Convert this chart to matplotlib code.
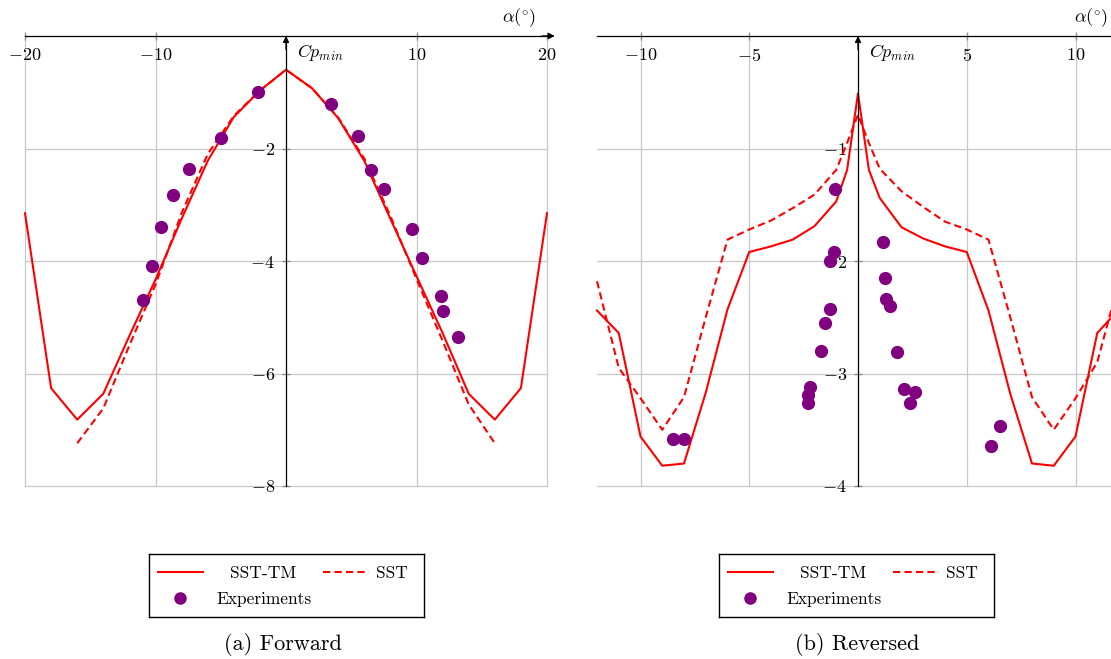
import numpy as np
import matplotlib.pyplot as plt

plt.rcParams['font.family'] = 'cmr10'
plt.rcParams['mathtext.fontset'] = 'cm'
plt.rcParams['axes.formatter.use_mathtext'] = True

# -----------------------------
# (a) Forward
# -----------------------------
fwd_tm_alpha = [-20, -18, -16, -14, -12, -10, -8, -6, -4, -2, 0,
                2, 4, 6, 8, 10, 12, 14, 16, 18, 20]
fwd_tm_cp = [-3.15, -6.26, -6.82, -6.36, -5.33, -4.33, -3.25, -2.22, -1.44, -0.97, -0.60,
             -0.93, -1.46, -2.22, -3.25, -4.27, -5.28, -6.36, -6.82, -6.26, -3.15]

fwd_sst_alpha = [-16, -14, -12, -10, -8, -6, -4, -2, 0, 2, 4, 6, 8, 10, 12, 14, 16]
fwd_sst_cp = [-7.24, -6.62, -5.50, -4.42, -3.15, -2.10, -1.42, -0.97, -0.60,
              -0.93, -1.45, -2.18, -3.20, -4.32, -5.42, -6.55, -7.24]

fwd_exp_alpha = [-10.93, -10.30, -9.59, -8.63, -7.40, -4.99, -2.11,
                 3.42, 5.48, 6.52, 7.48, 9.62, 10.41, 11.84, 12.0, 13.2]
fwd_exp_cp = [-4.69, -4.08, -3.40, -2.83, -2.37, -1.82, -0.99,
              -1.21, -1.77, -2.38, -2.72, -3.43, -3.95, -4.62, -4.89, -5.35]

fwd_xticks = [-20, -10, 10, 20]
fwd_yticks = [-2, -4, -6, -8]

# -----------------------------
# (b) Reversed
# -----------------------------
rev_alpha = [-12, -11, -10, -9, -8, -7, -6, -5, -4, -3, -2, -1, -0.5, 0,
             0.5, 1, 2, 3, 4, 5, 6, 7, 8, 9, 10, 11, 12]
rev_tm_cp = [-2.44, -2.64, -3.56, -3.82, -3.80, -3.17, -2.43, -1.92, -1.87, -1.81, -1.69, -1.47, -1.19, -0.51,
             -1.19, -1.44, -1.70, -1.80, -1.87, -1.92, -2.44, -3.18, -3.80, -3.82, -3.56, -2.64, -2.43]
rev_sst_cp = [-2.18, -2.95, -3.22, -3.50, -3.21, -2.50, -1.81, -1.72, -1.64, -1.53, -1.41, -1.19, -0.95, -0.70,
              -0.95, -1.18, -1.38, -1.52, -1.65, -1.72, -1.81, -2.50, -3.21, -3.50, -3.22, -2.90, -2.18]

rev_exp_alpha = [-8.51, -8.0, -2.29, -2.29, -2.20, -1.71, -1.50, -1.29, -1.27, -1.09, -1.05,
                 1.15, 1.26, 1.29, 1.49, 1.80, 2.10, 2.41, 2.60, 6.13, 6.51]
rev_exp_cp = [-3.58, -3.58, -3.26, -3.19, -3.12, -2.80, -2.55, -2.43, -2.00, -1.92, -1.36,
              -1.83, -2.15, -2.34, -2.40, -2.81, -3.14, -3.26, -3.16, -3.64, -3.47]

rev_xticks = [-10, -5, 5, 10]
rev_yticks = [-1, -2, -3, -4]

# -----------------------------
# Plotting
# -----------------------------
W, H = 1111, 659
fig = plt.figure(figsize=(W / 100, H / 100), dpi=100)

DASH = (3.5, 2.0)
LW = 1.5
PURPLE = '#800080'


def px_box(x0, y0, x1, y1):
    return [x0 / W, 1 - y1 / H, (x1 - x0) / W, (y1 - y0) / H]


def setup(ax, xlim, ylim, xticks, yticks):
    ax.set_xlim(*xlim)
    ax.set_ylim(*ylim)
    ax.spines['top'].set_visible(False)
    ax.spines['right'].set_visible(False)
    ax.spines['bottom'].set_position(('data', 0))
    ax.spines['left'].set_position(('data', 0))
    ax.spines['bottom'].set_linewidth(0.9)
    ax.spines['left'].set_linewidth(0.9)
    ax.set_xticks(xticks)
    ax.set_xticklabels([f'${t}$' for t in xticks])
    ax.set_yticks(yticks)
    ax.set_yticklabels([f'${t}$' for t in yticks])
    ax.tick_params(direction='inout', length=6, width=1, color='#909090',
                   labelsize=13, pad=5)
    ax.grid(True, color='#c8c8c8', lw=0.9)
    for gl in ax.get_xgridlines() + ax.get_ygridlines():
        gl.set_clip_on(False)
    ax.set_axisbelow(True)
    ax.patch.set_visible(False)
    # axis arrows
    ax.annotate('', xy=(1.015, 0), xytext=(0.99, 0),
                xycoords=('axes fraction', 'data'),
                arrowprops=dict(arrowstyle='-|>', color='k', lw=0.9,
                                mutation_scale=9, shrinkA=0, shrinkB=0),
                annotation_clip=False)
    ax.annotate('', xy=(0, 1.0), xytext=(0, 0.97),
                xycoords=('data', 'axes fraction'),
                arrowprops=dict(arrowstyle='-|>', color='k', lw=0.9,
                                mutation_scale=9, shrinkA=0, shrinkB=0),
                annotation_clip=False)
    ax.annotate(r'$\alpha(^{\circ})$', xy=(1, 0), xycoords=('axes fraction', 'data'),
                xytext=(-8, 13), textcoords='offset points',
                ha='right', va='center', fontsize=13, annotation_clip=False)
    ax.annotate(r'$Cp_{min}$', xy=(0, 0), xycoords='data',
                xytext=(8, -12), textcoords='offset points',
                ha='left', va='center', fontsize=13, annotation_clip=False)


def draw_legend(x0, y0):
    lg = fig.add_axes(px_box(x0, y0, x0 + 275, y0 + 63))
    lg.set_xlim(0, 275)
    lg.set_ylim(63, 0)
    lg.set_xticks([])
    lg.set_yticks([])
    for s in lg.spines.values():
        s.set_linewidth(1.0)
        s.set_color('k')
    lg.plot([9, 54], [18, 18], color='red', lw=LW)
    lg.text(114, 18, 'SST-TM', ha='center', va='center_baseline', fontsize=12.5)
    lg.plot([174, 220], [18, 18], color='red', lw=LW, dashes=DASH)
    lg.text(243, 18, 'SST', ha='center', va='center_baseline', fontsize=12.5)
    lg.plot([31], [44], 'o', color=PURPLE, ms=8)
    lg.text(115, 44, 'Experiments', ha='center', va='center_baseline', fontsize=12.5)


# (a) Forward
ax1 = fig.add_axes(px_box(25, 36, 547, 486))
setup(ax1, (-20, 20), (-8, 0), fwd_xticks, fwd_yticks)
ax1.plot(fwd_tm_alpha, fwd_tm_cp, color='red', lw=LW, clip_on=False)
ax1.plot(fwd_sst_alpha, fwd_sst_cp, color='red', lw=LW, dashes=DASH, clip_on=False)
ax1.plot(fwd_exp_alpha, fwd_exp_cp, 'o', color=PURPLE, ms=8.5, zorder=3)

# (b) Reversed
ax2 = fig.add_axes(px_box(597, 36, 1119, 486))
setup(ax2, (-12, 12), (-4, 0), rev_xticks, rev_yticks)
ax2.plot(rev_alpha, rev_tm_cp, color='red', lw=LW, clip_on=False)
ax2.plot(rev_alpha, rev_sst_cp, color='red', lw=LW, dashes=DASH, clip_on=False)
ax2.plot(rev_exp_alpha, rev_exp_cp, 'o', color=PURPLE, ms=8.5, zorder=3)

draw_legend(149, 554)
draw_legend(719, 554)

fig.text(283 / W, 1 - 645 / H, '(a) Forward', ha='center', va='center', fontsize=16)
fig.text(857 / W, 1 - 645 / H, '(b) Reversed', ha='center', va='center', fontsize=16)

fig.savefig('out.png', dpi=100)
